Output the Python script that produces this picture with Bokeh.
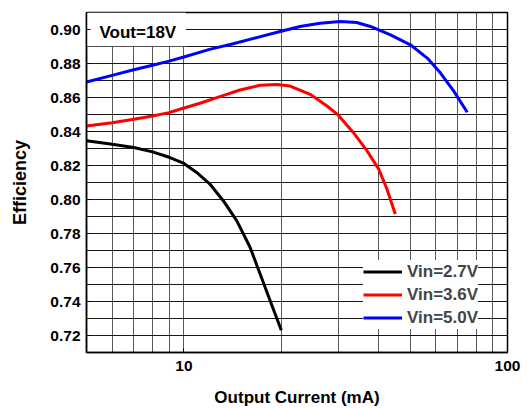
from bokeh.plotting import figure
from bokeh.models import Range1d, FixedTicker, Label, BoxAnnotation, PrintfTickFormatter
from bokeh.embed import file_html
from bokeh.resources import INLINE

# ---- data ----
current_27 = [5, 6, 7, 8, 9.05, 10, 10.95, 12.03, 13.23, 14.56, 16.01, 17.19, 18.46, 20]
eff_27 = [0.8345, 0.8325, 0.8306, 0.828, 0.8247, 0.8212, 0.8159, 0.8091, 0.7993, 0.7876,
          0.7719, 0.7563, 0.7406, 0.7231]

current_36 = [5, 6, 7, 8, 9, 9.72, 11.21, 12.92, 14.9, 17.19, 19.36, 21.29, 24.56, 27.68,
              30, 33.42, 36.8, 40, 42.4, 45.0]
eff_36 = [0.8433, 0.8452, 0.8472, 0.8491, 0.8511, 0.8531, 0.8566, 0.8605, 0.8644, 0.8672,
          0.8677, 0.8667, 0.8619, 0.855, 0.8496, 0.8393, 0.8286, 0.8179, 0.8062, 0.7915]

current_50 = [5, 6, 7, 8, 9, 10, 12, 14.2, 17, 19.83, 22.85, 26.36, 30.4, 34.2, 37.7,
              43.5, 50.1, 56.5, 62.1, 68.3, 75.1]
eff_50 = [0.8691, 0.873, 0.8763, 0.879, 0.8814, 0.8838, 0.8883, 0.8916, 0.8955, 0.8988,
          0.9018, 0.9037, 0.9047, 0.9041, 0.9018, 0.8968, 0.891, 0.8832, 0.8744, 0.8636,
          0.8513]

series_labels = ["Vin=2.7V", "Vin=3.6V", "Vin=5.0V"]
series_colors = ["black", "#ff0000", "#0000ff"]

x_major_ticks = [10, 100]
x_minor_ticks = [5, 6, 7, 8, 9, 20, 30, 40, 50, 60, 70, 80, 90]
y_major_ticks = [0.72, 0.74, 0.76, 0.78, 0.80, 0.82, 0.84, 0.86, 0.88, 0.90]
y_minor_ticks = [0.71, 0.73, 0.75, 0.77, 0.79, 0.81, 0.83, 0.85, 0.87, 0.89, 0.91]

FONT = "Liberation Sans"

p = figure(width=527, height=409, x_axis_type="log",
           x_range=Range1d(5, 100), y_range=Range1d(0.71, 0.91),
           output_backend="svg", toolbar_location=None, title=None,
           min_border_left=86, min_border_right=20, min_border_top=12, min_border_bottom=56,
           background_fill_color="white", border_fill_color="white")

# grids
p.xgrid.grid_line_color = "black"
p.xgrid.grid_line_alpha = 0.65
p.xgrid.minor_grid_line_color = "black"
p.xgrid.minor_grid_line_alpha = 0.65
p.ygrid.grid_line_color = "black"
p.ygrid.grid_line_alpha = 0.9
p.ygrid.minor_grid_line_color = "black"
p.ygrid.minor_grid_line_alpha = 0.9
for g in (p.xgrid, p.ygrid):
    g.grid_line_width = 1
    g.minor_grid_line_width = 1

p.xaxis.ticker = FixedTicker(ticks=x_major_ticks, minor_ticks=x_minor_ticks)
p.yaxis.ticker = FixedTicker(ticks=y_major_ticks, minor_ticks=y_minor_ticks)
p.xaxis.formatter = PrintfTickFormatter(format="%d")
p.yaxis.formatter = PrintfTickFormatter(format="%.2f")

p.xaxis.axis_label = "Output Current (mA)"
p.yaxis.axis_label = "Efficiency"
for ax in (p.xaxis, p.yaxis):
    ax.axis_label_text_font = FONT
    ax.axis_label_text_font_style = "bold"
    ax.axis_label_text_font_size = "17px"
    ax.axis_label_text_color = "black"
    ax.major_label_text_font = FONT
    ax.major_label_text_font_style = "bold"
    ax.major_label_text_font_size = "15.5px"
    ax.major_label_text_color = "black"
    ax.axis_line_color = "black"
    ax.axis_line_width = 1.5
    ax.major_tick_in = 4
    ax.major_tick_out = 0
    ax.minor_tick_in = 0
    ax.minor_tick_out = 0
    ax.major_tick_line_color = "black"
p.yaxis.axis_label_text_font_size = "18px"
p.yaxis.major_label_standoff = 6
p.yaxis.axis_label_standoff = 17
p.xaxis.major_label_standoff = 8
p.xaxis.axis_label_standoff = 14

p.outline_line_color = "black"
p.outline_line_width = 1.5

# white box behind the Vout text
box = BoxAnnotation(left=5, right=10.14, bottom=0.8902, top=0.91,
                    fill_color="white", fill_alpha=1.0, line_color=None, level="underlay")
p.add_layout(box)

for xs, ys, lab, col in zip([current_27, current_36, current_50],
                            [eff_27, eff_36, eff_50], series_labels, series_colors):
    p.line(xs, ys, line_color=col, line_width=3, legend_label=lab, line_join="round")

p.add_layout(Label(x=5, y=0.898, x_offset=13, text="Vout=18V", text_font=FONT,
                   text_font_style="bold", text_font_size="17px", text_baseline="middle",
                   text_color="black"))

lg = p.legend[0]
lg.location = (277, 23)
lg.label_text_font = FONT
lg.label_text_font_style = "bold"
lg.label_text_font_size = "17px"
lg.glyph_width = 39
lg.glyph_height = 23
lg.label_height = 23
lg.spacing = 0
lg.padding = 3
lg.margin = 0
lg.label_standoff = 5
lg.border_line_color = None
lg.background_fill_color = "white"
lg.background_fill_alpha = 1.0

open("out.html", "w").write(file_html(p, INLINE))
